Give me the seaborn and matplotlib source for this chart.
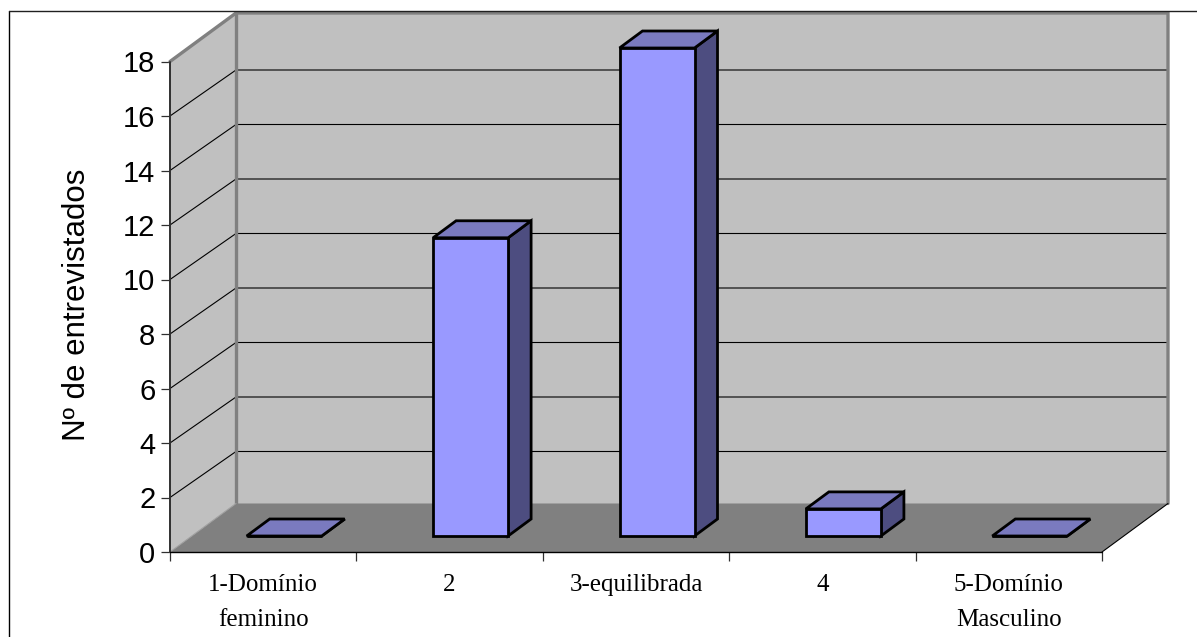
import matplotlib
matplotlib.use("Agg")
import matplotlib.pyplot as plt
from matplotlib.lines import Line2D
from matplotlib.patches import Polygon
import seaborn as sns

categories = ["1-Domínio\nfeminino", "2", "3-equilibrada", "4", "5-Domínio\nMasculino"]
values = [0, 11, 18, 1, 0]
y_ticks = [0, 2, 4, 6, 8, 10, 12, 14, 16, 18]
y_label = "Nº de entrevistados"

W, H = 1197, 637
sns.set_style("white")
plt.rcParams["font.family"] = ["Liberation Sans", "DejaVu Sans"]
plt.rcParams["text.color"] = "black"
plt.rcParams["axes.labelcolor"] = "black"
plt.rcParams["xtick.labelcolor"] = "black"
plt.rcParams["ytick.labelcolor"] = "black"

fig = plt.figure(figsize=(W / 100, H / 100), dpi=100, facecolor="white")


def px_axes(left, top, right, bottom):
    return fig.add_axes([left / W, 1 - bottom / H, (right - left) / W, (bottom - top) / H])


# frame (open at the right and the bottom, as in the reference)
fig.add_artist(Line2D([9 / W, 9 / W], [0, 1 - 11 / H], color="black", lw=1.0))
fig.add_artist(Line2D([9 / W, 1], [1 - 11 / H, 1 - 11 / H], color="#202020", lw=1.0))

# main box: front plane of the 3-D plot
ax = px_axes(170, 61.5, 1102, 552)
ax.set_xlim(-0.5, 4.5)
ax.set_ylim(0, 18)
ax.patch.set_alpha(0)
for s in ax.spines.values():
    s.set_visible(False)

dx = 66 / (932 / 5)
dy = 48.5 / (490.5 / 18)
grid_dy = 46 / (490.5 / 18)
x0, x1 = -0.5, 4.5
top = 18

ax.add_patch(Polygon([(x0, 0), (x0 + dx, dy), (x0 + dx, top + dy), (x0, top)],
                     fc="#C0C0C0", ec="none", clip_on=False, zorder=1))
ax.add_patch(Polygon([(x0 + dx, dy), (x1 + dx, dy), (x1 + dx, top + dy), (x0 + dx, top + dy)],
                     fc="#C0C0C0", ec="none", clip_on=False, zorder=1))
ax.add_patch(Polygon([(x0, 0), (x1, 0), (x1 + dx, dy), (x0 + dx, dy)],
                     fc="#808080", ec="none", clip_on=False, zorder=2))

for t in y_ticks[1:-1]:
    ax.plot([x0, x0 + dx, x1 + dx], [t, t + grid_dy, t + grid_dy], color="black", lw=0.8,
            clip_on=False, zorder=3)

# wall borders
ax.plot([x0, x0 + dx, x1 + dx, x1 + dx], [top, top + dy, top + dy, dy], color="#808080",
        lw=2.4, clip_on=False, zorder=4, solid_joinstyle="miter")
ax.plot([x0 + dx, x0 + dx], [dy, top + dy], color="#808080", lw=2.4, clip_on=False, zorder=4)
ax.plot([x0, x0 + dx], [0, dy], color="#A0A0A0", lw=0.8, clip_on=False, zorder=4)
ax.plot([x1, x1 + dx], [0, dy], color="black", lw=0.8, clip_on=False, zorder=4)
ax.plot([x0, x0], [0, top], color="#303030", lw=1.4, clip_on=False, zorder=5)
ax.plot([x0, x1], [0, 0], color="black", lw=1.0, clip_on=False, zorder=5)

ax.set_yticks(y_ticks)
ax.tick_params(axis="y", labelsize=21, length=6.5, width=0.9, color="#303030", pad=4, left=True)
ax.set_xticks([i - 0.5 for i in range(6)])
ax.set_xticklabels([])
ax.tick_params(axis="x", which="major", length=6.5, width=0.9, color="#303030", bottom=True)
ax.set_xticks(range(5), categories, minor=True)
ax.tick_params(axis="x", which="minor", length=0, pad=16, labelsize=18)
for lab in ax.get_xticklabels(minor=True):
    lab.set_fontfamily(["Liberation Serif", "DejaVu Serif"])
    lab.set_linespacing(1.75)
    lab.set_color("black")
ax.set_ylabel(y_label, fontsize=22.5, labelpad=0, color="black")
ax.yaxis.set_label_coords((92 - 170) / 932, (552 - 305) / 490.5)

# bars: shifted into the depth of the floor
axb = px_axes(191, 48, 1123, 536)
sns.barplot(x=categories, y=values, ax=axb, color="#9999FF", saturation=1, width=75 / (932 / 5),
            edgecolor="black", linewidth=2.0, zorder=6)
axb.set_xlim(-0.5, 4.5)
axb.set_ylim(0, 18)
axb.axis("off")
bdx = 23 / (932 / 5)
bdy = 17 / (488 / 18)
for bar in axb.patches[:len(values)]:
    bx, bw, bh = bar.get_x(), bar.get_width(), bar.get_height()
    bar.set_clip_on(False)
    axb.add_patch(Polygon([(bx + bw, 0), (bx + bw + bdx, bdy), (bx + bw + bdx, bh + bdy), (bx + bw, bh)],
                          fc="#4D4D80", ec="black", lw=2.0, clip_on=False, zorder=5, joinstyle="miter"))
    axb.add_patch(Polygon([(bx, bh), (bx + bdx, bh + bdy), (bx + bw + bdx, bh + bdy), (bx + bw, bh)],
                          fc="#7A7ABF", ec="black", lw=2.0, clip_on=False, zorder=5, joinstyle="miter"))

fig.savefig("out.png", dpi=100)
